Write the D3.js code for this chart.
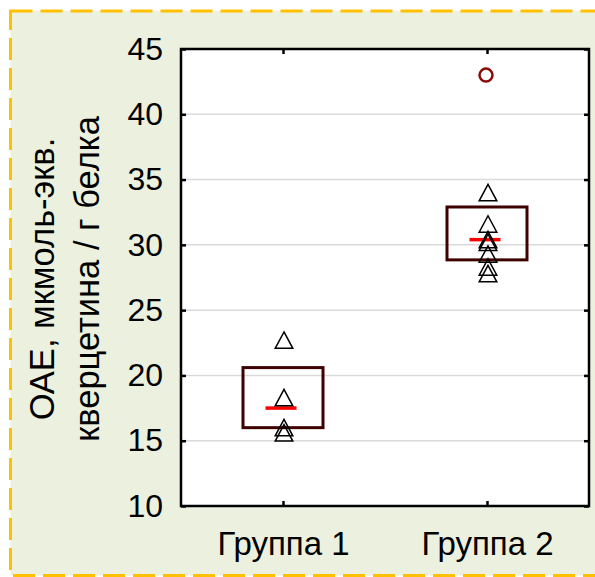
<!DOCTYPE html>
<html>
<head>
<meta charset="utf-8">
<script src="https://cdn.jsdelivr.net/npm/d3@7"></script>
<style>
  html, body { margin: 0; padding: 0; background: #ffffff; }
  svg { display: block; }
  text { font-family: Arial, "Liberation Sans", sans-serif; fill: #000; }
</style>
</head>
<body>
<svg id="chart" width="595" height="577"></svg>
<script>
// Groups and their individual measurements
const groups = ["Группа 1", "Группа 2"];
const group1Values = [22.7, 18.3, 16.0, 15.6];
const group2Values = [34.0, 31.6, 30.4, 30.2, 29.3, 28.3, 27.8];
// Box summaries (lower edge, upper edge, median line)
const boxLow = [16.0, 28.85];
const boxHigh = [20.6, 32.9];
const medians = [17.5, 30.4];
// Outliers: [group index, value]
const outliers = [[1, 43.0]];
const yTicks = [10, 15, 20, 25, 30, 35, 40, 45];
const yTitleLines = ["ОАЕ, мкмоль-экв.", "кверцетина / г белка"];

const svg = d3.select("#chart");
const plot = { left: 181, right: 589, top: 49, bottom: 506 };

// Panel background with dashed outline
svg.append("rect")
  .attr("x", 10.5).attr("y", 11)
  .attr("width", 600).attr("height", 564.5)
  .attr("fill", "#EBF1DE")
  .attr("stroke", "#FFC000")
  .attr("stroke-width", 3)
  .attr("stroke-dasharray", "22,8");

// Plot area
svg.append("rect")
  .attr("x", plot.left).attr("y", plot.top)
  .attr("width", plot.right - plot.left).attr("height", plot.bottom - plot.top)
  .attr("fill", "#ffffff");

const x = d3.scalePoint().domain(groups).range([plot.left, plot.right]).padding(0.5);
const y = d3.scaleLinear().domain([10, 45]).range([plot.bottom, plot.top]);

// Horizontal grid lines
svg.append("g")
  .selectAll("line")
  .data(yTicks.filter(t => t > 10 && t < 45))
  .join("line")
  .attr("x1", plot.left).attr("x2", plot.right)
  .attr("y1", d => y(d)).attr("y2", d => y(d))
  .attr("stroke", "#DADADA").attr("stroke-width", 1.5);

// Axes: ticks drawn inward on all four sides
const axisStyle = g => {
  g.select(".domain").remove();
  g.selectAll(".tick line").attr("stroke", "#000").attr("stroke-width", 2.5);
};
svg.append("g")
  .attr("transform", `translate(${plot.left},0)`)
  .call(d3.axisLeft(y).tickValues(yTicks).tickSize(-5).tickPadding(18))
  .call(axisStyle)
  .call(g => g.selectAll(".tick text")
    .attr("font-size", 32)
    .attr("font-family", "Arial, 'Liberation Sans', sans-serif")
    .attr("fill", "#000")
    .attr("dy", "0.32em"));
svg.append("g")
  .attr("transform", `translate(${plot.right},0)`)
  .call(d3.axisRight(y).tickValues(yTicks).tickSize(-5).tickFormat(""))
  .call(axisStyle);
svg.append("g")
  .attr("transform", `translate(0,${plot.bottom})`)
  .call(d3.axisBottom(x).tickSize(-5).tickPadding(26))
  .call(axisStyle)
  .call(g => g.selectAll(".tick text")
    .attr("font-size", 33)
    .attr("font-family", "Arial, 'Liberation Sans', sans-serif")
    .attr("fill", "#000")
    .attr("dy", "0.71em"));
svg.append("g")
  .attr("transform", `translate(0,${plot.top})`)
  .call(d3.axisTop(x).tickSize(-5).tickFormat(""))
  .call(axisStyle);

// Frame
svg.append("rect")
  .attr("x", plot.left).attr("y", plot.top)
  .attr("width", plot.right - plot.left).attr("height", plot.bottom - plot.top)
  .attr("fill", "none").attr("stroke", "#000").attr("stroke-width", 2.5);

// Y axis title, two rotated lines
const titleG = svg.append("g").attr("transform", `translate(0,${279}) rotate(-90)`);
titleG.selectAll("text")
  .data(yTitleLines)
  .join("text")
  .attr("x", 0)
  .attr("y", (d, i) => 54 + i * 45)
  .attr("text-anchor", "middle")
  .attr("font-size", 34.5)
  .text(d => d);

// Boxes
const boxW = 80;
const summaries = groups.map((g, i) => ({ g, lo: boxLow[i], hi: boxHigh[i], med: medians[i] }));
svg.append("g").selectAll("rect")
  .data(summaries)
  .join("rect")
  .attr("x", d => x(d.g) - boxW / 2)
  .attr("y", d => y(d.hi))
  .attr("width", boxW)
  .attr("height", d => y(d.lo) - y(d.hi))
  .attr("fill", "none")
  .attr("stroke", "#3F0000")
  .attr("stroke-width", 3);

// Median lines
const medW = 31;
svg.append("g").selectAll("line")
  .data(summaries)
  .join("line")
  .attr("x1", d => x(d.g) - 2 - medW / 2)
  .attr("x2", d => x(d.g) - 2 + medW / 2)
  .attr("y1", d => y(d.med)).attr("y2", d => y(d.med))
  .attr("stroke", "#FF0000")
  .attr("stroke-width", 3.5);

// Individual points as open triangles
const points = [
  ...group1Values.map(v => ({ g: groups[0], v })),
  ...group2Values.map(v => ({ g: groups[1], v }))
];
const tri = (cx, cy) => {
  const hw = 8.8, hh = 8.2;
  return `M${cx},${cy - hh}L${cx + hw},${cy + hh}L${cx - hw},${cy + hh}Z`;
};
svg.append("g").selectAll("path")
  .data(points)
  .join("path")
  .attr("d", d => tri(x(d.g) + 1, y(d.v)))
  .attr("fill", "none")
  .attr("stroke", "#000")
  .attr("stroke-width", 1.5)
  .attr("stroke-linejoin", "miter");

// Outliers as open circles
svg.append("g").selectAll("circle")
  .data(outliers)
  .join("circle")
  .attr("cx", d => x(groups[d[0]]) - 1)
  .attr("cy", d => y(d[1]))
  .attr("r", 6.5)
  .attr("fill", "none")
  .attr("stroke", "#8B0A0A")
  .attr("stroke-width", 2.5);
</script>
</body>
</html>
